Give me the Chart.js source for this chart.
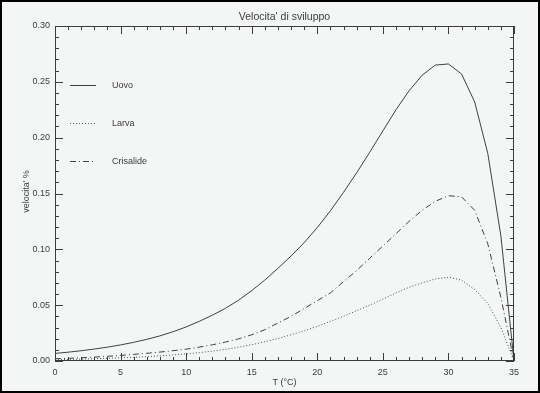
<!DOCTYPE html>
<html lang="it">
<head>
<meta charset="utf-8">
<title>Velocita' di sviluppo</title>
<script src="https://cdn.jsdelivr.net/npm/chart.js@4.4.1/dist/chart.umd.min.js"></script>
<style>
  html, body { margin: 0; padding: 0; background: #fff; }
  #wrap { width: 540px; height: 393px; }
</style>
</head>
<body>
<div id="wrap"><canvas id="sviluppo" width="540" height="393"></canvas></div>
<script>
/* ── Dati ── */
const temperature = [0, 1, 2, 3, 4, 5, 6, 7, 8, 9, 10, 11, 12, 13, 14, 15, 16, 17,
                     18, 19, 20, 21, 22, 23, 24, 25, 26, 27, 28, 29, 30, 31, 32, 33, 34, 35];

const uovo = [0.0068, 0.0079, 0.0092, 0.0107, 0.0124, 0.0144, 0.0167, 0.0194, 0.0225,
              0.0262, 0.0305, 0.0355, 0.0410, 0.0472, 0.0545, 0.0630, 0.0725, 0.0830,
              0.0940, 0.1060, 0.1195, 0.1345, 0.1510, 0.1685, 0.1870, 0.2060, 0.2250,
              0.2420, 0.2560, 0.2650, 0.2660, 0.2570, 0.2320, 0.1860, 0.1120, 0.0000];

const larva = [0.0012, 0.0014, 0.0017, 0.0020, 0.0024, 0.0028, 0.0033, 0.0039, 0.0046,
               0.0054, 0.0064, 0.0075, 0.0088, 0.0104, 0.0124, 0.0146, 0.0172, 0.0202,
               0.0235, 0.0270, 0.0310, 0.0355, 0.0400, 0.0450, 0.0500, 0.0555, 0.0610,
               0.0660, 0.0700, 0.0735, 0.0750, 0.0725, 0.0640, 0.0515, 0.0300, 0.0000];

const crisalide = [0.0020, 0.0024, 0.0029, 0.0035, 0.0042, 0.0050, 0.0059, 0.0069, 0.0080,
                   0.0092, 0.0106, 0.0124, 0.0145, 0.0170, 0.0198, 0.0235, 0.0280, 0.0340,
                   0.0400, 0.0470, 0.0540, 0.0610, 0.0710, 0.0810, 0.0920, 0.1030, 0.1140,
                   0.1250, 0.1350, 0.1430, 0.1480, 0.1470, 0.1350, 0.1050, 0.0570, 0.0000];

const serie  = ['Uovo', 'Larva', 'Crisalide'];
const xTicks = [0, 5, 10, 15, 20, 25, 30, 35];
const yTicks = [0, 0.05, 0.10, 0.15, 0.20, 0.25, 0.30];

const INK  = '#3c3c3c';
const FONT = '"Liberation Sans", Arial, sans-serif';

/* ── Cornice stile IDL: tacche interne sui 4 lati, titolo, legenda ── */
const idlFrame = {
    id: 'idlFrame',

    beforeDraw(chart) {
        const { ctx, width, height } = chart;
        ctx.save();
        ctx.fillStyle = '#f4f5f5';
        ctx.fillRect(0, 0, width, height);
        ctx.strokeStyle = '#000';
        ctx.lineWidth = 2;
        ctx.strokeRect(1, 1, width - 2, height - 2);
        ctx.restore();
    },

    afterDraw(chart) {
        const { ctx, chartArea: a, scales: { x, y } } = chart;
        ctx.save();
        ctx.strokeStyle = INK;
        ctx.lineWidth = 1;
        ctx.setLineDash([]);

        // box
        ctx.strokeRect(a.left + 0.5, a.top + 0.5, a.right - a.left - 1, a.bottom - a.top - 1);

        ctx.beginPath();
        // tacche asse x (5 suddivisioni tra le maggiori)
        for (let i = 0; i < xTicks.length; i++) {
            const sub = i < xTicks.length - 1 ? 5 : 1;
            for (let k = 0; k < sub; k++) {
                const v = i < xTicks.length - 1
                    ? xTicks[i] + (xTicks[i + 1] - xTicks[i]) * k / 5
                    : xTicks[i];
                const px  = Math.round(x.getPixelForValue(v)) + 0.5;
                const len = k === 0 ? 8 : 4;
                ctx.moveTo(px, a.bottom); ctx.lineTo(px, a.bottom - len);
                ctx.moveTo(px, a.top);    ctx.lineTo(px, a.top + len);
            }
        }
        // tacche asse y
        for (let i = 0; i < yTicks.length; i++) {
            const sub = i < yTicks.length - 1 ? 5 : 1;
            for (let k = 0; k < sub; k++) {
                const v = i < yTicks.length - 1
                    ? yTicks[i] + (yTicks[i + 1] - yTicks[i]) * k / 5
                    : yTicks[i];
                const py  = Math.round(y.getPixelForValue(v)) + 0.5;
                const len = k === 0 ? 8 : 4;
                ctx.moveTo(a.left, py);  ctx.lineTo(a.left + len, py);
                ctx.moveTo(a.right, py); ctx.lineTo(a.right - len, py);
            }
        }
        ctx.stroke();

        // titoli
        ctx.fillStyle = INK;
        ctx.textAlign = 'center';
        ctx.textBaseline = 'middle';
        ctx.font = '10.5px ' + FONT;
        ctx.fillText("Velocita' di sviluppo", (a.left + a.right) / 2, a.top - 9);

        ctx.font = '9px ' + FONT;
        ctx.fillText('T (°C)', (a.left + a.right) / 2, a.bottom + 22);

        ctx.save();
        ctx.translate(a.left - 28, (a.top + a.bottom) / 2 - 2);
        ctx.rotate(-Math.PI / 2);
        ctx.fillText("velocita' %", 0, 0);
        ctx.restore();

        // legenda
        ctx.textAlign = 'left';
        chart.data.datasets.forEach((ds, i) => {
            const ly = a.top + 59 + i * 38 + 0.5;
            ctx.setLineDash(ds.borderDash || []);
            ctx.strokeStyle = ds.borderColor;
            ctx.lineWidth = ds.borderWidth;
            ctx.beginPath();
            ctx.moveTo(a.left + 15, ly);
            ctx.lineTo(a.left + 41, ly);
            ctx.stroke();
            ctx.fillText(ds.label, a.left + 57, ly);
        });

        ctx.restore();
    }
};

/* ── Grafico ── */
const punti = arr => temperature.map((t, i) => ({ x: t, y: arr[i] }));

new Chart(document.getElementById('sviluppo'), {
    type: 'line',
    data: {
        datasets: [
            { label: serie[0], data: punti(uovo),      borderColor: '#404040', borderWidth: 1, borderDash: [] },
            { label: serie[1], data: punti(larva),     borderColor: '#505050', borderWidth: 1, borderDash: [1, 2] },
            { label: serie[2], data: punti(crisalide), borderColor: '#404040', borderWidth: 1, borderDash: [6, 3, 1, 3] }
        ]
    },
    options: {
        responsive: false,
        animation: false,
        layout: { padding: { left: 0, right: 26, top: 26, bottom: 0 } },
        elements: { point: { radius: 0 }, line: { tension: 0 } },
        scales: {
            x: {
                type: 'linear', min: 0, max: 35,
                afterFit: s => { s.height = 32; },
                afterBuildTicks: s => { s.ticks = xTicks.map(v => ({ value: v })); },
                ticks: { color: INK, font: { family: FONT, size: 9 }, padding: 6, maxRotation: 0 },
                grid: { display: false, drawTicks: false },
                border: { display: false }
            },
            y: {
                min: 0, max: 0.3,
                afterFit: s => { s.width = 55; },
                afterBuildTicks: s => { s.ticks = yTicks.map(v => ({ value: v })); },
                ticks: { color: INK, font: { family: FONT, size: 9 }, padding: 5,
                         callback: v => v.toFixed(2) },
                grid: { display: false, drawTicks: false },
                border: { display: false }
            }
        },
        plugins: { legend: { display: false }, tooltip: { enabled: false } }
    },
    plugins: [idlFrame]
});
</script>
</body>
</html>
